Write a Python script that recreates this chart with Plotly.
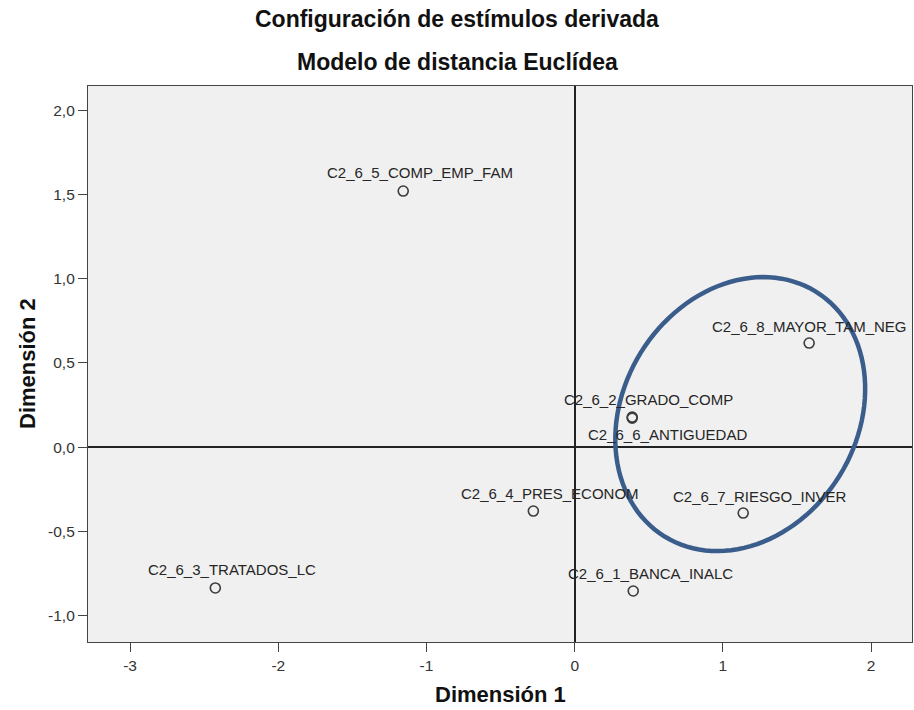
import numpy as np
import plotly.graph_objects as go

# Stimulus coordinates (Euclidean distance model, 2 dimensions)
stimuli = [
    "C2_6_5_COMP_EMP_FAM",
    "C2_6_8_MAYOR_TAM_NEG",
    "C2_6_2_GRADO_COMP",
    "C2_6_6_ANTIGUEDAD",
    "C2_6_4_PRES_ECONOM",
    "C2_6_7_RIESGO_INVER",
    "C2_6_3_TRATADOS_LC",
    "C2_6_1_BANCA_INALC",
]
dim1 = [-1.157, 1.582, 0.388, 0.388, -0.279, 1.137, -2.425, 0.395]
dim2 = [1.521, 0.618, 0.178, 0.172, -0.380, -0.392, -0.837, -0.855]

x_ticks = [-3, -2, -1, 0, 1, 2]
x_tick_labels = ["-3", "-2", "-1", "0", "1", "2"]
y_ticks = [-1.0, -0.5, 0.0, 0.5, 1.0, 1.5, 2.0]
y_tick_labels = ["-1,0", "-0,5", "0,0", "0,5", "1,0", "1,5", "2,0"]

# label placement (pixel shifts from each point)
label_dx = [17, 0, 16, 35, 17, 17, 17, 17]
label_dy = [19, 17, 18, -16, 18, 17, 18, 18]

W, H = 914, 710
ML, MR, MT, MB = 88, 2, 86, 68
xr = [-3.284, 2.276]
yr = [-1.158, 2.145]
px_x = (W - ML - MR) / (xr[1] - xr[0])
px_y = (H - MT - MB) / (yr[1] - yr[0])

fig = go.Figure()
fig.add_trace(go.Scatter(
    x=dim1, y=dim2, mode="markers",
    marker=dict(symbol="circle-open", size=10, color="#3c3c3c",
                line=dict(width=1.6, color="#3c3c3c")),
    hoverinfo="text", text=stimuli, showlegend=False,
))

annotations = []
for name, x, y, dx, dy in zip(stimuli, dim1, dim2, label_dx, label_dy):
    annotations.append(dict(
        x=x, y=y, xref="x", yref="y", text=name, showarrow=False,
        xshift=dx, yshift=dy, xanchor="center", yanchor="middle",
        font=dict(family="Liberation Sans, Arial, sans-serif", size=15, color="#262626"),
    ))

title_font = dict(family="Liberation Sans, Arial, sans-serif", size=23, color="#111111")
axis_title_font = dict(family="Liberation Sans, Arial, sans-serif", size=22, color="#111111")
plot_w = W - ML - MR
plot_h = H - MT - MB
annotations += [
    dict(xref="paper", yref="paper", x=(457 - ML) / plot_w, y=(H - MB - 19) / plot_h,
         text="<b>Configuración de estímulos derivada</b>", showarrow=False,
         xanchor="center", yanchor="middle", font=title_font),
    dict(xref="paper", yref="paper", x=(457 - ML) / plot_w, y=(H - MB - 62) / plot_h,
         text="<b>Modelo de distancia Euclídea</b>", showarrow=False,
         xanchor="center", yanchor="middle", font=title_font),
    dict(xref="paper", yref="paper", x=0.5, y=-(694 - (H - MB)) / plot_h,
         text="<b>Dimensión 1</b>", showarrow=False,
         xanchor="center", yanchor="middle", font=axis_title_font),
    dict(xref="paper", yref="paper", x=-(ML - 27) / plot_w, y=0.5,
         text="<b>Dimensión 2</b>", showarrow=False, textangle=-90,
         xanchor="center", yanchor="middle", font=axis_title_font),
]

# highlighted cluster ellipse
cx, cy = 1.117, 0.196
a, b, alpha = 143.9, 116.9, np.deg2rad(58.3)
t = np.linspace(0, 2 * np.pi, 121)
ex = cx + (a * np.cos(t) * np.cos(alpha) - b * np.sin(t) * np.sin(alpha)) / px_x
ey = cy + (a * np.cos(t) * np.sin(alpha) + b * np.sin(t) * np.cos(alpha)) / px_y
path = "M " + " L ".join(f"{u:.4f},{v:.4f}" for u, v in zip(ex, ey)) + " Z"

fig.add_shape(type="path", path=path, xref="x", yref="y",
              line=dict(color="#3a5d8c", width=4.5), layer="above")

tick_font = dict(family="Liberation Sans, Arial, sans-serif", size=15.5, color="#333333")
fig.update_layout(
    width=W, height=H,
    margin=dict(l=ML, r=MR, t=MT, b=MB),
    paper_bgcolor="white", plot_bgcolor="#f0f0f0",
    annotations=annotations,
    xaxis=dict(range=xr, tickvals=x_ticks, ticktext=x_tick_labels,
               showgrid=False, zeroline=True, zerolinecolor="#222222", zerolinewidth=1.5,
               showline=True, mirror=True, linecolor="#444444", linewidth=1.2,
               ticks="outside", ticklen=9, tickcolor="#444444", tickfont=tick_font),
    yaxis=dict(range=yr, tickvals=y_ticks, ticktext=y_tick_labels,
               showgrid=False, zeroline=True, zerolinecolor="#222222", zerolinewidth=1.5,
               showline=True, mirror=True, linecolor="#444444", linewidth=1.2,
               ticks="outside", ticklen=9, tickcolor="#444444", tickfont=tick_font),
)

fig.write_html("out.html")
